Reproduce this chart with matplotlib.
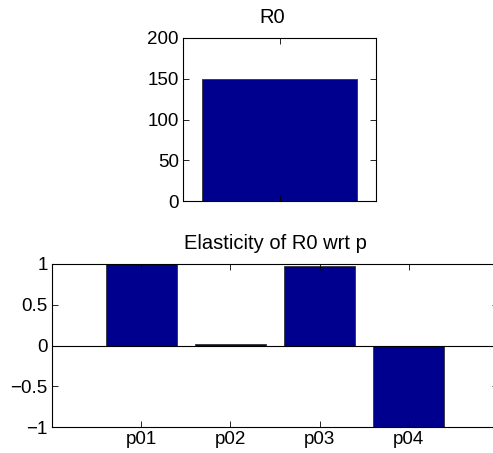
import matplotlib
matplotlib.use("Agg")
import matplotlib.pyplot as plt

r0_value = [150]
categories = ["p01", "p02", "p03", "p04"]
elasticity = [1.0, 0.02, 0.97, -1.0]
r0_ticks = [0, 50, 100, 150, 200]
el_ticks = [-1, -0.5, 0, 0.5, 1]

plt.rcParams['font.family'] = ['Liberation Sans', 'DejaVu Sans']
plt.rcParams['font.size'] = 13.5
plt.rcParams['axes.unicode_minus'] = True

W, H = 493, 453
fig = plt.figure(figsize=(W/100, H/100), dpi=100)
barcol = '#00008F'
fs = 13.5
tfs = 14.5

def style(ax):
    ax.tick_params(direction='in', top=True, right=True, length=4, width=0.6,
                   labelsize=fs, pad=3)
    for s in ax.spines.values():
        s.set_linewidth(0.8)

# Top axes
ax1 = fig.add_axes([183/W, 1-201/H, (376-183)/W, (201-38)/H])
ax1.bar([1], r0_value, width=0.8, color=barcol, edgecolor='#333333', linewidth=0.6)
ax1.set_xlim(0.5, 1.5)
ax1.set_ylim(0, 200)
ax1.set_yticks(r0_ticks)
ax1.set_xticks([1])
ax1.set_xticklabels([""])
ax1.set_title("R0", fontsize=tfs, pad=11, x=0.46)
style(ax1)

# Bottom axes
x = [1, 2, 3, 4]
left = 52
unit = 89.2
right = left + 5*unit
ax2 = fig.add_axes([left/W, 1-427/H, (right-left)/W, (427-264)/H])
ax2.bar(x, elasticity, width=0.8, color=barcol, edgecolor='#333333', linewidth=0.6)
ax2.axhline(0, color='black', linewidth=0.8)
ax2.set_xlim(0, 5)
ax2.set_ylim(-1, 1)
ax2.set_yticks(el_ticks)
ax2.set_yticklabels(["\u22121", "\u22120.5", "0", "0.5", "1"])
ax2.set_xticks(x)
ax2.set_xticklabels(categories)
ax2.set_title("Elasticity of R0 wrt p", fontsize=tfs, pad=11)
style(ax2)

fig.savefig("out.png", dpi=100)
